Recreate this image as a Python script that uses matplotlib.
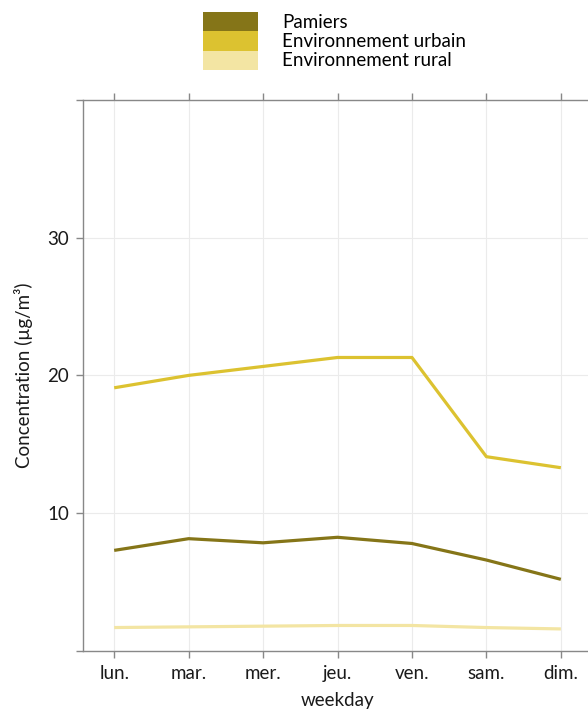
import matplotlib
matplotlib.use("Agg")
import matplotlib.pyplot as plt
from matplotlib.patches import Patch

plt.rcParams['font.family'] = ['Lato', 'DejaVu Sans']

# weekday profiles, µg/m3
days = ["lun.", "mar.", "mer.", "jeu.", "ven.", "sam.", "dim."]
pamiers = [7.3, 8.15, 7.85, 8.25, 7.8, 6.6, 5.2]
urbain = [19.1, 20.0, 20.65, 21.3, 21.3, 14.1, 13.3]
rural = [1.7, 1.75, 1.8, 1.85, 1.85, 1.7, 1.6]

series_names = ["Pamiers", "Environnement urbain", "Environnement rural"]
colors = ["#857518", "#DCC230", "#F3E5A3"]

fs = 13.5

fig = plt.figure(figsize=(5.88, 7.13), dpi=100)
ax = fig.add_axes([0.141, 0.087, 0.866, 0.773])

x = list(range(len(days)))
for vals, c in zip([pamiers, urbain, rural], colors):
    ax.plot(x, vals, color=c, lw=2.3, solid_capstyle='butt', zorder=3)

ax.set_xlim(-0.42, 6.42)
ax.set_ylim(0, 40)
ax.set_xticks(x)
ax.set_xticklabels(days)
ax.set_yticks([0, 10, 20, 30, 40])
ax.set_yticklabels(["", "10", "20", "30", ""])

ax.grid(True, color="#ebebeb", lw=0.8, zorder=0)
for s in ax.spines.values():
    s.set_color("#888888")
    s.set_linewidth(1.0)
ax.tick_params(axis='both', colors="#888888", labelcolor="#1a1a1a",
               labelsize=fs, length=5, width=1.0)
ax.tick_params(axis='x', top=True, pad=5)
ax.tick_params(axis='y', pad=5)

ax.set_xlabel("weekday", fontsize=fs, color="#1a1a1a", labelpad=7)
ax.set_ylabel("Concentration (µg/m³)", fontsize=fs, color="#1a1a1a", labelpad=10)

handles = [Patch(facecolor=c, edgecolor='none') for c in colors]
fig.legend(handles, series_names, loc='upper left', bbox_to_anchor=(0.345, 0.983),
           frameon=False, fontsize=fs, handlelength=2.95, handleheight=1.2,
           labelspacing=0.0, handletextpad=1.28, borderpad=0, borderaxespad=0)

fig.savefig("out.png", dpi=100)
